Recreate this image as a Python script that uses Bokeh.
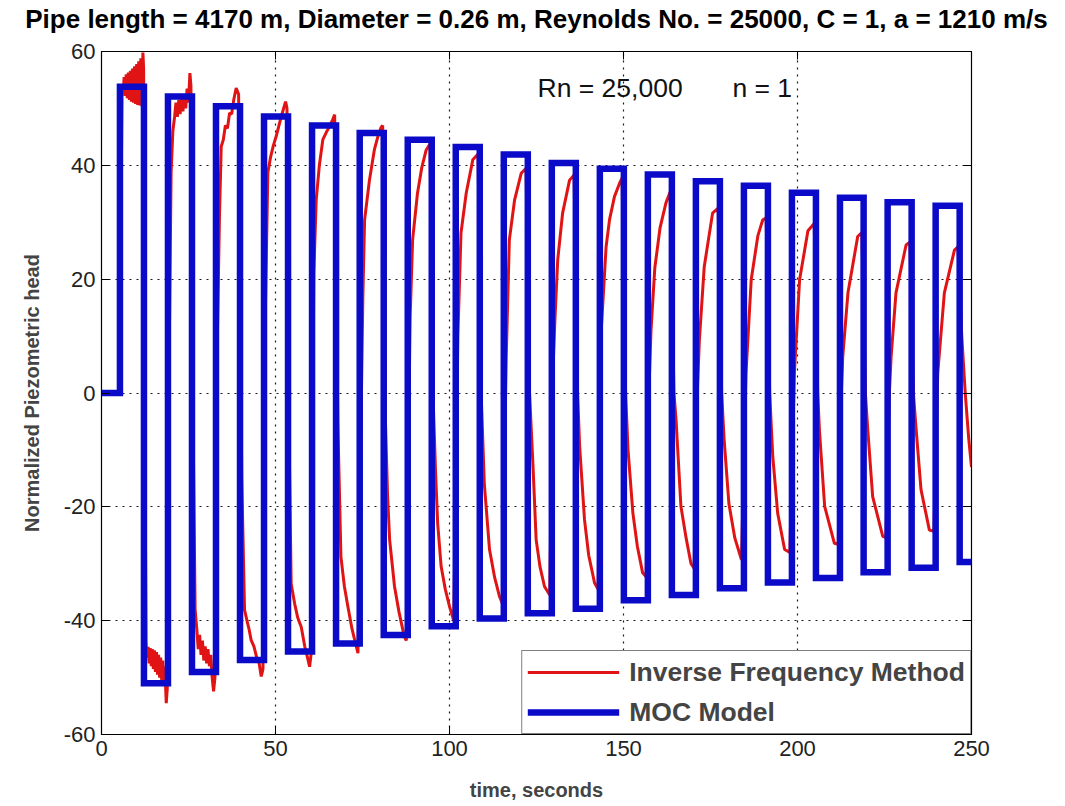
from bokeh.plotting import figure
from bokeh.models import LinearAxis, FixedTicker, Label, Legend, LegendItem
from bokeh.embed import file_html
from bokeh.resources import INLINE

# ---------------- data ----------------
# MOC model: square wave switching times (s) and plateau levels
rise_t = [5.3, 19.1, 32.9, 46.7, 60.5, 74.2, 88.0, 101.8, 115.6, 129.4, 143.2, 157.0,
          170.8, 184.6, 198.4, 212.2, 225.9, 239.7]
fall_t = [12.2, 26.0, 39.8, 53.6, 67.4, 81.1, 94.9, 108.7, 122.5, 136.3, 150.1, 163.9,
          177.7, 191.5, 205.3, 219.0, 232.8, 246.6]
moc_high = [53.8, 52.1, 50.4, 48.6, 47.0, 45.7, 44.5, 43.2, 41.9, 40.4, 39.4, 38.4,
            37.2, 36.4, 35.2, 34.3, 33.5, 32.9]
moc_low = [-51.0, -49.0, -46.9, -45.4, -44.0, -42.5, -41.0, -39.6, -38.7, -37.9, -36.4, -35.5,
           -34.3, -33.3, -32.5, -31.5, -30.7, -29.7]

# Inverse Frequency Method: points
ifm_t = [0, 5.3,
         5.6, 5.9, 6.2, 6.5, 6.8, 7.1, 7.4, 7.7, 8.0, 8.3, 8.6, 8.9, 9.2, 9.5, 9.8, 10.1, 10.4, 10.7, 11.0, 11.3, 11.6, 11.9, 12.1,
         12.5, 12.8, 13.1, 13.4, 13.7, 14.0, 14.3, 14.6, 14.9, 15.2, 15.5, 15.8, 16.1, 16.4, 16.7, 17.0, 17.3, 17.6, 17.9, 18.2, 18.6, 18.9,
         19.5, 20.0, 20.5, 21.0, 21.4, 21.8, 22.2, 22.6, 23.0, 23.4, 23.8, 24.2, 24.6, 25.0, 25.4, 25.7,
         26.4, 26.9, 27.4, 27.8, 28.2, 28.6, 29.0, 29.4, 29.8, 30.2, 30.6, 31.0, 31.4, 31.8, 32.2, 32.6,
         33.3, 33.9, 34.4, 35.0, 35.6, 36.2, 36.8, 37.4, 38.0, 38.7, 39.4,
         40.3, 41.1, 41.8, 42.4, 43.0, 43.8, 44.6, 45.3, 45.9, 46.4,
         47.1, 47.8, 48.6, 49.4, 50.2, 51.2, 52.1, 52.9, 53.3,
         54.0, 54.5, 55.5, 56.4, 57.4, 58.4, 59.2, 59.8, 60.2,
         61.0, 61.7, 62.6, 63.6, 64.6, 65.5, 66.4, 67.0,
         67.9, 68.8, 69.8, 70.8, 72.0, 73.0, 73.7,
         74.7, 75.1, 75.6, 77.0, 78.4, 79.4, 80.3, 80.8,
         81.6, 82.2, 82.8, 84.2, 85.5, 87.0, 87.6,
         88.4, 88.7, 89.4, 90.8, 92.0, 93.3, 94.4,
         95.4, 96.0, 96.6, 97.6, 98.8, 100.0, 101.2,
         102.1, 102.4, 103.3, 104.8, 106.7, 108.2,
         109.2, 110.0, 111.5, 113.0, 114.4, 115.2,
         115.9, 116.3, 117.2, 118.7, 120.6, 122.0,
         123.0, 124.0, 124.9, 126.0, 127.3, 128.8,
         129.7, 130.3, 131.1, 132.5, 134.5, 135.8,
         136.8, 137.4, 138.8, 140.0, 141.7, 142.7,
         143.6, 145.0, 146.0, 147.4, 148.9, 149.6,
         150.6, 151.3, 152.7, 154.0, 155.5, 156.5,
         157.4, 157.9, 159.0, 160.5, 162.2, 163.4,
         164.5, 165.1, 166.5, 168.0, 169.4, 170.3,
         171.2, 171.8, 173.2, 175.6, 177.2,
         178.2, 178.9, 180.3, 182.0, 183.9,
         185.2, 186.7, 188.6, 190.0, 191.0,
         192.0, 192.9, 194.3, 196.3, 197.8,
         199.1, 200.6, 203.0, 204.8,
         205.8, 206.3, 207.8, 210.6, 211.7,
         212.6, 213.0, 214.5, 217.3, 218.5,
         219.5, 220.2, 221.6, 224.5, 225.4,
         226.4, 226.9, 228.3, 231.2, 232.3,
         233.3, 234.1, 235.5, 237.9, 239.2,
         240.3, 242.2, 245.1, 246.1,
         247.2, 248.2, 249.2, 250.0]
ifm_y = [0, 0,
         30, 54.0, 52.5, 55.5, 52.2, 56.0, 51.8, 56.3, 51.5, 56.6, 51.2, 57.0, 51.0, 57.4, 50.8, 57.8, 50.6, 58.3, 50.5, 58.8, 50.4, 59.8, 57.0,
         -10, -44, -46.5, -44.6, -47.5, -44.8, -48.0, -45.0, -48.5, -45.2, -49.0, -45.5, -49.5, -46.0, -50.0, -46.5, -50.4, -47.0, -51.0, -48.0, -54.5, -52.0,
         10, 38.7, 46, 48.5, 51, 48.5, 51.5, 49, 52, 49.5, 52.5, 50, 53.5, 51, 56.2, 54,
         -10, -38, -41.6, -45, -42.5, -46, -43.5, -47, -44.5, -47.5, -45, -48, -46, -50, -52.4, -50,
         10, 31, 43.3, 44.5, 47, 46.5, 49.2, 49, 51.5, 53.6, 52.5,
         -15, -38.1, -40, -41.5, -43.4, -44.5, -46.5, -47.5, -49.8, -48.5,
         15, 38.7, 41.5, 43.5, 45.1, 47.5, 49.5, 51.2, 50,
         -12, -33.5, -37, -39.5, -41.1, -44.5, -46.5, -48.1, -46,
         21, 33.9, 40, 44.5, 45.8, 46.8, 48, 48.9,
         -5, -28.8, -34, -37.5, -41.5, -44, -45.7,
         0, 17, 30.4, 37.4, 42.7, 45, 46.6, 47,
         -5, -18, -25.8, -34, -38.5, -42.8, -43.5,
         0, 13.5, 26.9, 35.1, 39.5, 42.7, 43.8,
         -3, -14, -22.9, -30.5, -34.5, -37.5, -40,
         -5, 9.9, 28.1, 35.1, 41, 42,
         -2, -15.9, -27.5, -32.5, -35.8, -37,
         -8, 6.4, 26.9, 33.9, 38.6, 39.5,
         0, -12.9, -25.8, -30.5, -34, -35.5,
         3.5, 13, 23.4, 31.6, 37.4, 38.3,
         0, -9.4, -22.3, -28.5, -33.4, -34.5,
         11, 25.7, 30.5, 34.5, 36.9, 37.8,
         0, -10, -21.1, -27, -31.6, -32.3,
         2, 11, 22, 29, 33.4, 35.3,
         0, -4.7, -19.9, -25.5, -30.0, -30.8,
         0, 9.3, 22.2, 31.6, 32.5,
         0, -8, -19.5, -25.5, -29.3,
         3.5, 19.9, 27.6, 30.4, 30.8,
         0, -11.2, -21.1, -27.5, -28,
         3.5, 19.9, 28.5, 29.8,
         0, -6.5, -19.9, -26.4, -26.6,
         0, 6.4, 17.6, 27.5, 28.2,
         0, -6.5, -18.2, -25.2, -25.4,
         0, 6.4, 17.6, 26, 26.5,
         0, -6.5, -17, -24.1, -24.3,
         3.5, 17.6, 25.1, 25.7,
         10, 0, -8, -13]

x_ticks = [0, 50, 100, 150, 200, 250]
y_ticks = [-60, -40, -20, 0, 20, 40, 60]

title_text = "Pipe length = 4170 m, Diameter = 0.26 m, Reynolds No. = 25000, C = 1, a = 1210 m/s"

# ---------------- build MOC step polyline from the switching data ----------------
moc_t = [0.0]
moc_y = [0.0]
for i in range(len(rise_t)):
    prev = 0.0 if i == 0 else moc_low[i - 1]
    moc_t += [rise_t[i], rise_t[i], fall_t[i], fall_t[i]]
    moc_y += [prev, moc_high[i], moc_high[i], moc_low[i]]
moc_t.append(250.0)
moc_y.append(moc_low[-1])

FONT = "Liberation Sans"
RED = "#e01414"
BLUE = "#0a0ac8"

p = figure(frame_width=870, frame_height=683, x_range=(0, 250), y_range=(-60, 60),
           output_backend="svg", toolbar_location=None,
           min_border_left=101, min_border_right=94, min_border_top=51, min_border_bottom=70,
           background_fill_color="white", border_fill_color="white")

r_ifm = p.line(ifm_t, ifm_y, line_color=RED, line_width=3)
r_moc = p.line(moc_t, moc_y, line_color=BLUE, line_width=6.5, line_join="miter")

p.outline_line_color = "black"
p.outline_line_width = 1.2

for ax in (p.xaxis[0], p.yaxis[0]):
    ax.major_tick_in = 8
    ax.major_tick_out = 0
    ax.minor_tick_line_color = None
    ax.major_label_text_font = FONT
    ax.major_label_text_font_size = "22px"
    ax.major_label_text_color = "#222222"
    ax.axis_label_text_font = FONT
    ax.axis_label_text_font_style = "bold"
    ax.axis_label_text_font_size = "20px"
    ax.axis_line_color = "black"
    ax.major_tick_line_color = "black"

p.xaxis[0].ticker = FixedTicker(ticks=x_ticks)
p.yaxis[0].ticker = FixedTicker(ticks=y_ticks)
p.yaxis[0].major_label_overrides = {t: str(t) for t in y_ticks}
p.xaxis[0].axis_label = "time, seconds"
p.yaxis[0].axis_label = "Normalized Piezometric head"
p.xaxis[0].major_label_standoff = 6
p.yaxis[0].major_label_standoff = 6
p.xaxis[0].axis_label_standoff = 20
p.yaxis[0].axis_label_standoff = 18

# top axis: inward ticks only, and it carries the chart title as its label
top_ax = LinearAxis(ticker=FixedTicker(ticks=x_ticks), major_tick_in=8, major_tick_out=0,
                    minor_tick_line_color=None, major_label_standoff=0,
                    major_label_text_font_size="2px",
                    major_label_overrides={t: "" for t in x_ticks},
                    axis_label=title_text, axis_label_text_font=FONT,
                    axis_label_text_font_style="bold", axis_label_text_font_size="26px",
                    axis_label_text_color="black", axis_label_standoff=18)
right_ax = LinearAxis(ticker=FixedTicker(ticks=y_ticks), major_tick_in=8, major_tick_out=0,
                      minor_tick_line_color=None, major_label_standoff=0,
                      major_label_text_font_size="2px",
                      major_label_overrides={t: "" for t in y_ticks})
p.add_layout(top_ax, "above")
p.add_layout(right_ax, "right")

p.xgrid.ticker = FixedTicker(ticks=x_ticks)
p.ygrid.ticker = FixedTicker(ticks=y_ticks)
for g in (p.xgrid[0], p.ygrid[0]):
    g.grid_line_color = "black"
    g.grid_line_dash = "2 5"
    g.grid_line_width = 1.2
    g.grid_line_alpha = 0.9

p.add_layout(Label(x=125.3, y=53.6, text="Rn = 25,000", text_font=FONT, text_font_size="26.5px",
                   text_baseline="middle", text_align="left", text_color="#111111"))
p.add_layout(Label(x=181.3, y=53.6, text="n = 1", text_font=FONT, text_font_size="26.5px",
                   text_baseline="middle", text_align="left", text_color="#111111"))

legend = Legend(items=[LegendItem(label="Inverse Frequency Method", renderers=[r_ifm]),
                       LegendItem(label="MOC Model", renderers=[r_moc])],
                location="bottom_right", margin=0, padding=5, spacing=8,
                glyph_width=92, glyph_height=32, label_height=32, label_standoff=10,
                label_text_font=FONT, label_text_font_style="bold", label_text_font_size="26.5px",
                border_line_color="black", border_line_width=1.2,
                background_fill_color="white", background_fill_alpha=1.0)
p.add_layout(legend)

open("out.html", "w").write(file_html(p, INLINE))
